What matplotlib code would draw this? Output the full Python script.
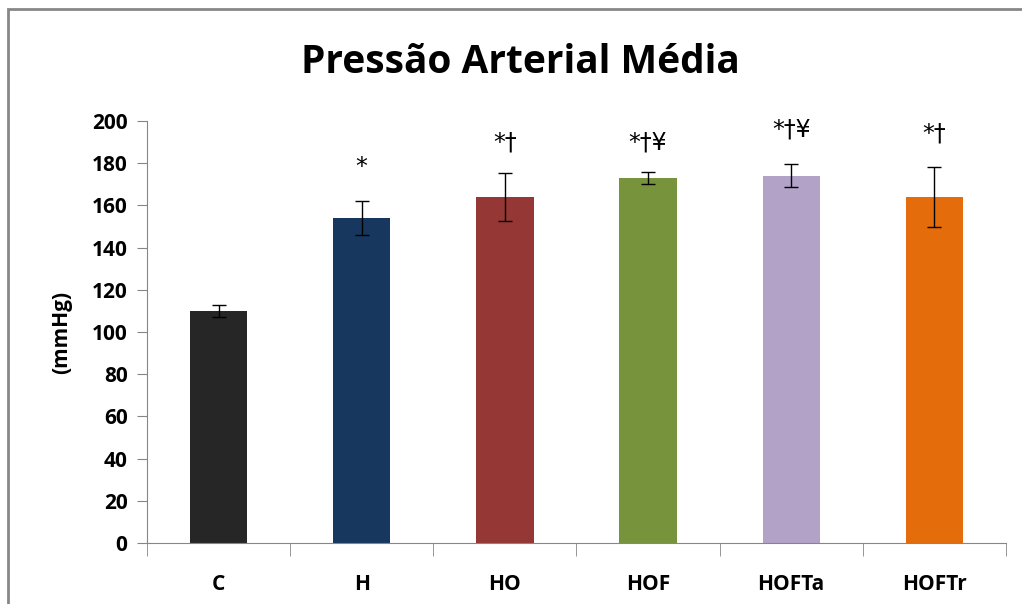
import matplotlib.pyplot as plt
from matplotlib.patches import Rectangle
from matplotlib.ticker import FixedLocator
import numpy as np

groups = ["C", "H", "HO", "HOF", "HOFTa", "HOFTr"]
means = [110, 154, 164, 173, 174, 164]
errors = [2.7, 8, 11.3, 3, 5.5, 14.3]
marks = ["", "*", "*†", "*†¥", "*†¥", "*†"]
mark_y = [0, 178, 190, 190, 196, 194]
colors = ["#262626", "#17375E", "#953735", "#77933C", "#B2A2C7", "#E46C0A"]

plt.rcParams["font.family"] = ["Open Sans", "DejaVu Sans"]

fig = plt.figure(figsize=(10.22, 6.04), dpi=100)
ax = fig.add_axes([0.1438, 0.101, 0.8405, 0.6987])

# chart frame (cropped Excel chart border)
fig.patches.append(Rectangle((8 / 1022, -0.1), 1.2, 1.1 - 9 / 604,
                             transform=fig.transFigure, fill=False,
                             edgecolor="#878787", linewidth=2))

x = np.arange(len(groups))
ax.bar(x, means, width=0.40, color=colors, zorder=2)
ax.errorbar(x, means, yerr=errors, fmt="none", ecolor="black",
            elinewidth=1, capsize=4.7, capthick=1, zorder=3)

for xi, m, my in zip(x, marks, mark_y):
    if m:
        ax.text(xi, my, m, ha="center", va="center", fontsize=17,
                family="DejaVu Sans")

ax.set_xlim(-0.5, len(groups) - 0.5)
ax.set_ylim(0, 200)
ax.set_yticks(np.arange(0, 201, 20))
ax.set_xticks(x)
ax.set_xticklabels(groups, fontsize=15, fontweight="bold")
ax.xaxis.set_minor_locator(FixedLocator(np.arange(-0.5, len(groups), 1)))
ax.tick_params(axis="x", which="major", length=0, pad=22)
ax.tick_params(axis="x", which="minor", length=9, color="#868686")
ax.tick_params(axis="y", length=7, color="#868686", labelsize=15, pad=7)
for lbl in ax.get_yticklabels():
    lbl.set_fontweight("bold")

for s in ["top", "right"]:
    ax.spines[s].set_visible(False)
for s in ["left", "bottom"]:
    ax.spines[s].set_color("#868686")

ax.set_ylabel("(mmHg)", fontsize=15, fontweight="bold", labelpad=14)
fig.text(0.509, 0.897, "Pressão Arterial Média", ha="center", va="center",
         fontsize=28, fontweight="bold")

fig.savefig("out.png", dpi=100)
